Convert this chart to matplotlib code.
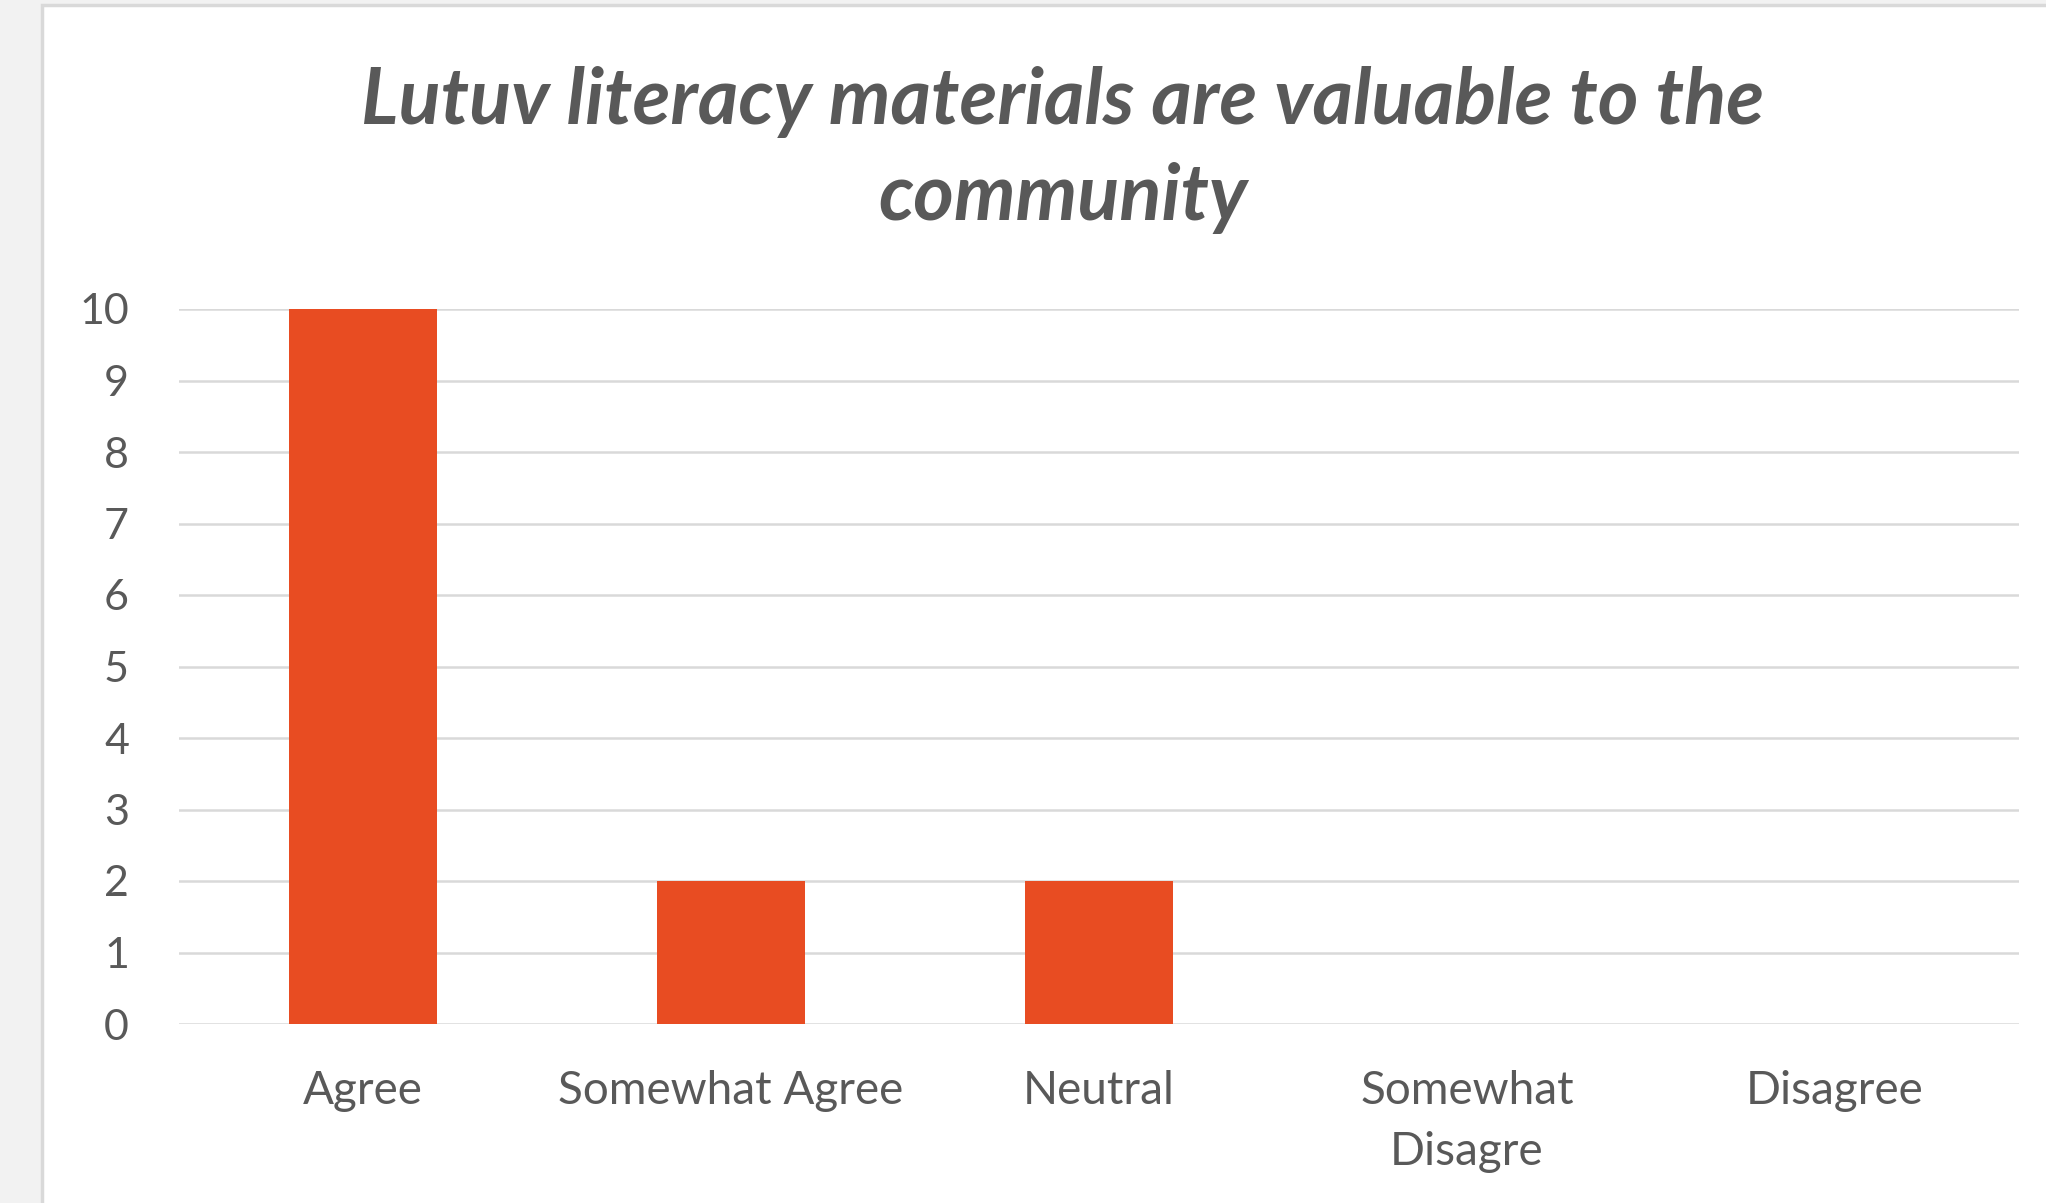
import matplotlib
matplotlib.use("Agg")
import matplotlib.pyplot as plt
from matplotlib.patches import Rectangle

categories = ["Agree", "Somewhat Agree", "Neutral", "Somewhat\nDisagre", "Disagree"]
counts = [10, 2, 2, 0, 0]
yticks = list(range(0, 11))

title = "Lutuv literacy materials are valuable to the\ncommunity"
text_color = "#595959"
bar_color = "#E84C22"
grid_color = "#D9D9D9"

plt.rcParams['font.family'] = ['Lato', 'DejaVu Sans']

fig = plt.figure(figsize=(20.46, 12.03), dpi=100)
fig.patch.set_facecolor("#F2F2F2")

# white chart area with a thin grey border on the left and top
panel = Rectangle((42 / 2046, -0.01), 1.0, 1 - 5 / 1203 + 0.01,
                  transform=fig.transFigure, facecolor="white",
                  edgecolor=grid_color, linewidth=2.5, zorder=-5)
fig.add_artist(panel)

ax = fig.add_axes([179 / 2046, (1203 - 1024) / 1203,
                   (2019 - 179) / 2046, (1024 - 309) / 1203])
ax.set_facecolor("none")
ax.set_zorder(2)

x = range(len(categories))
ax.bar(x, counts, width=0.4, color=bar_color, zorder=3)

ax.set_xlim(-0.5, len(categories) - 0.5)
ax.set_ylim(0, 10)
ax.set_yticks(yticks)
ax.set_xticks(list(x))
ax.set_xticklabels(categories, linespacing=1.55)
ax.yaxis.grid(True, color=grid_color, linewidth=1.8, zorder=0)
ax.set_axisbelow(True)
for s in ax.spines.values():
    s.set_visible(False)
ax.tick_params(axis='both', length=0, colors=text_color)
ax.tick_params(axis='y', pad=36, labelsize=31)
ax.tick_params(axis='x', pad=33, labelsize=33)

fig.text(1063 / 2046, 1 - 150 / 1203, title, ha='center', va='center',
         fontsize=56, fontweight='bold', fontstyle='italic',
         color=text_color, linespacing=1.4, zorder=3)

fig.savefig("out.png", dpi=100)
